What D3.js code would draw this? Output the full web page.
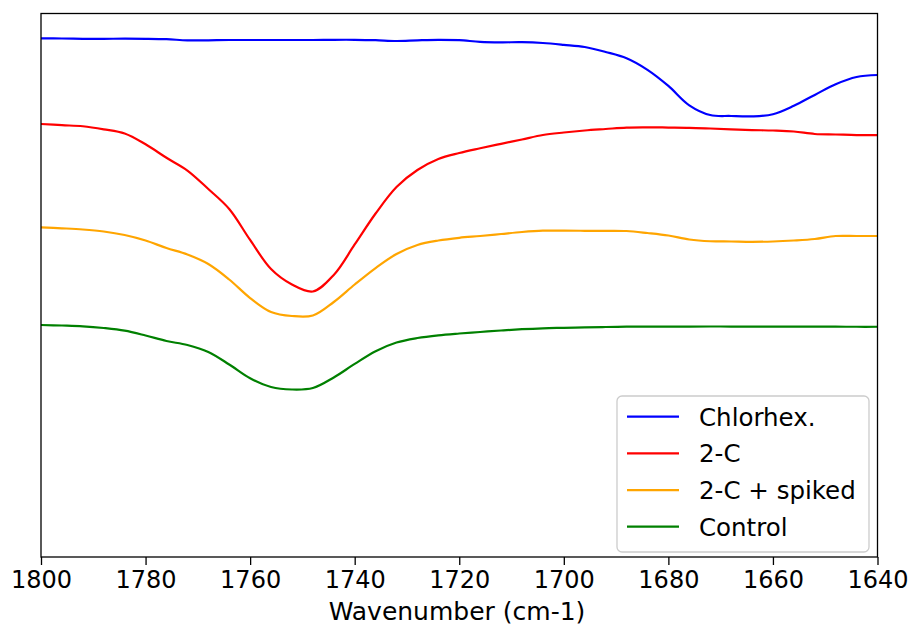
<!DOCTYPE html>
<html>
<head>
<meta charset="utf-8">
<script src="https://cdn.jsdelivr.net/npm/d3@7"></script>
<style>
  html, body { margin: 0; padding: 0; background: #fff; }
  svg { display: block; font-family: "DejaVu Sans", sans-serif; }
</style>
</head>
<body>
<svg id="chart" width="912" height="633"></svg>
<script>
// Wavenumber grid (cm-1), 4 cm-1 steps from 1800 down to 1640
const wavenumbers = [1800,1796,1792,1788,1784,1780,1776,1772,1768,1764,1760,1756,1752,1748,1744,1740,1736,1732,1728,1724,1720,1716,1712,1708,1704,1700,1696,1692,1688,1684,1680,1676,1672,1668,1664,1660,1656,1652,1648,1644,1640];

// Offset spectra (arbitrary units)
const chlorhex = [95.43,95.40,95.34,95.34,95.36,95.34,95.27,95.07,95.07,95.12,95.12,95.12,95.12,95.12,95.16,95.16,95.09,94.94,95.07,95.16,95.09,94.79,94.70,94.72,94.57,94.24,93.84,92.92,91.77,89.64,86.68,83.11,81.32,81.14,81.07,81.47,83.02,85.02,86.99,88.32,88.68];
const twoC = [79.67,79.45,79.25,78.69,77.92,75.93,73.45,71.11,67.71,64.03,58.33,52.99,50.14,48.85,51.89,57.50,63.20,68.08,71.20,73.23,74.33,75.20,76.02,76.82,77.64,78.10,78.47,78.75,79.02,79.06,79.02,78.97,78.84,78.69,78.56,78.47,78.29,77.83,77.74,77.64,77.64];
const twoCSpiked = [60.66,60.48,60.26,59.89,59.24,58.23,56.85,55.66,53.91,51.06,47.65,45.08,44.34,44.43,46.92,50.14,53.17,55.75,57.41,58.23,58.73,59.06,59.43,59.80,60.04,60.04,60.02,60.02,59.98,59.61,59.15,58.42,58.10,58.05,57.99,58.05,58.23,58.51,59.06,59.06,59.06];
const control = [42.69,42.59,42.45,42.13,41.64,40.75,39.74,39.01,37.72,35.42,32.88,31.28,30.82,31.09,33.03,35.53,37.87,39.47,40.29,40.79,41.12,41.40,41.67,41.91,42.08,42.17,42.26,42.32,42.37,42.37,42.38,42.40,42.41,42.40,42.39,42.38,42.38,42.37,42.37,42.36,42.36];

const seriesNames = ["Chlorhex.", "2-C", "2-C + spiked", "Control"];
const seriesColors = ["#0000ff", "#ff0000", "#ffa500", "#008000"];
const xTicks = [1800,1780,1760,1740,1720,1700,1680,1660,1640];
const xLabel = "Wavenumber (cm-1)";

const series = [chlorhex, twoC, twoCSpiked, control].map((vals, i) => ({
  name: seriesNames[i],
  color: seriesColors[i],
  points: wavenumbers.map((w, j) => ({ w, v: vals[j] }))
}));

const plot = { left: 41, right: 877.5, top: 13.5, bottom: 557 };
const svg = d3.select("#chart");

const x = d3.scaleLinear().domain([1800, 1640]).range([plot.left, plot.right]);
const y = d3.scaleLinear().domain([0, 100]).range([plot.bottom, plot.top]);

// clip lines to the axes box
svg.append("defs").append("clipPath").attr("id", "plotClip")
  .append("rect")
  .attr("x", plot.left).attr("y", plot.top)
  .attr("width", plot.right - plot.left).attr("height", plot.bottom - plot.top);

const line = d3.line()
  .x(d => x(d.w))
  .y(d => y(d.v))
  .curve(d3.curveCatmullRom.alpha(0.5));

svg.append("g").attr("clip-path", "url(#plotClip)")
  .selectAll("path")
  .data(series)
  .join("path")
  .attr("fill", "none")
  .attr("stroke", d => d.color)
  .attr("stroke-width", 2.2)
  .attr("stroke-linejoin", "round")
  .attr("d", d => line(d.points));

// frame
svg.append("rect")
  .attr("x", plot.left).attr("y", plot.top)
  .attr("width", plot.right - plot.left).attr("height", plot.bottom - plot.top)
  .attr("fill", "none").attr("stroke", "#000").attr("stroke-width", 1.3);

// bottom axis
const xAxis = d3.axisBottom(x).tickValues(xTicks).tickFormat(d3.format("d"))
  .tickSize(8).tickPadding(6);
const gx = svg.append("g").attr("transform", `translate(0,${plot.bottom})`).call(xAxis);
gx.attr("font-family", null).attr("font-size", null);
gx.select(".domain").remove();
gx.selectAll(".tick line").attr("stroke", "#000").attr("stroke-width", 1.3);
gx.selectAll(".tick text")
  .attr("fill", "#000")
  .style("font-family", "'DejaVu Sans', sans-serif")
  .style("font-size", "24px");

svg.append("text")
  .attr("x", 457)
  .attr("y", 620)
  .attr("text-anchor", "middle")
  .style("font-size", "25px")
  .attr("fill", "#000")
  .text(xLabel);

// legend
const legend = svg.append("g");
legend.append("rect")
  .attr("x", 617).attr("y", 396).attr("width", 252).attr("height", 156)
  .attr("rx", 5).attr("ry", 5)
  .attr("fill", "#fff").attr("fill-opacity", 0.8)
  .attr("stroke", "#cccccc").attr("stroke-width", 1.3);

const rowY = d3.scaleLinear().domain([0, 3]).range([416.7, 526.7]);
const rows = legend.selectAll("g.row").data(series).join("g").attr("class", "row")
  .attr("transform", (d, i) => `translate(0,${rowY(i)})`);
rows.append("line")
  .attr("x1", 627).attr("x2", 679).attr("y1", 0).attr("y2", 0)
  .attr("stroke", d => d.color).attr("stroke-width", 2.2);
rows.append("text")
  .attr("x", 699).attr("y", 9)
  .style("font-size", "24.5px")
  .attr("fill", "#000")
  .text(d => d.name);
</script>
</body>
</html>
